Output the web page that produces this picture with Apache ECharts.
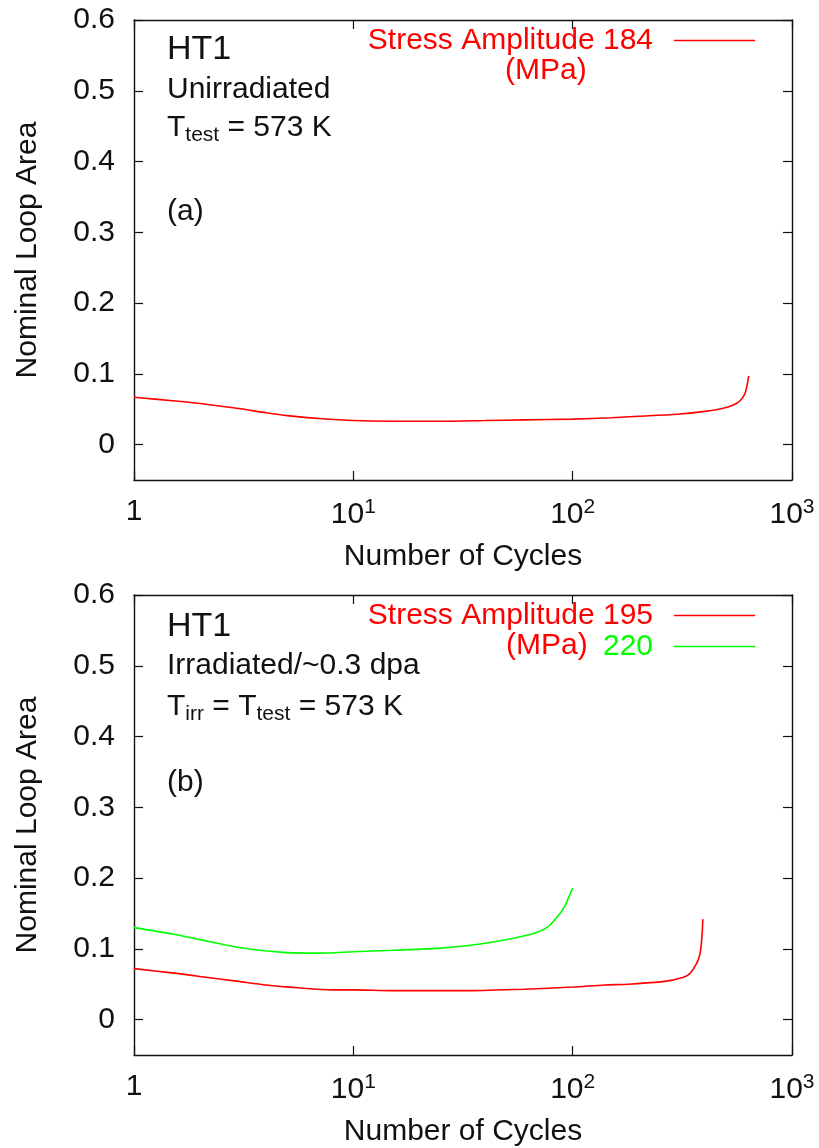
<!DOCTYPE html>
<html>
<head>
<meta charset="utf-8">
<script src="https://cdn.jsdelivr.net/npm/echarts@6/dist/echarts.min.js"></script>
<style>
  html, body { margin: 0; padding: 0; background: #fff; }
  #chart { width: 819px; height: 1148px; }
</style>
</head>
<body>
<div id="chart"></div>
<script>
// Panel (a): unirradiated, stress amplitude 184 MPa
const cyclesA184 = [1, 1.5, 2, 3, 4, 5, 7, 10, 15, 25, 40, 60, 100, 150, 200, 300, 400, 480, 540, 580, 610, 625, 635];
const areaA184   = [0.067, 0.062, 0.058, 0.051, 0.045, 0.041, 0.037, 0.034, 0.033, 0.033, 0.034, 0.035, 0.036, 0.038, 0.040, 0.043, 0.047, 0.051, 0.056, 0.062, 0.072, 0.085, 0.097];

// Panel (b): irradiated, stress amplitudes 195 and 220 MPa
const cyclesB195 = [1, 1.5, 2, 3, 4, 5.6, 8, 10, 15, 33, 60, 100, 140, 180, 262, 320, 342, 367, 380, 386, 390, 392];
const areaB195   = [0.072, 0.066, 0.061, 0.054, 0.049, 0.045, 0.042, 0.042, 0.041, 0.041, 0.043, 0.046, 0.049, 0.050, 0.054, 0.060, 0.065, 0.079, 0.092, 0.107, 0.125, 0.142];
const cyclesB220 = [1, 1.5, 2, 3, 4.8, 7, 10, 15, 25, 42, 65, 77, 87, 92, 96, 100];
const areaB220   = [0.130, 0.121, 0.113, 0.102, 0.095, 0.094, 0.096, 0.098, 0.101, 0.109, 0.121, 0.131, 0.149, 0.160, 0.173, 0.186];

const yTicks = [0, 0.1, 0.2, 0.3, 0.4, 0.5, 0.6];

const FONT = '"Liberation Sans", Arial, sans-serif';
const FS = 30;
const INK = '#111';
const RED = '#ff0000';
const GREEN = '#00ff00';

const pairs = (xs, ys) => xs.map((x, i) => [x, ys[i]]);

const grids = [
  { left: 134, top: 20, width: 658, height: 460 },
  { left: 134, top: 595, width: 658, height: 460 }
];

function xAxisFor(gridIndex, top) {
  return {
    type: 'log', logBase: 10, min: 1, max: 1000, gridIndex,
    position: top ? 'top' : 'bottom',
    name: top ? '' : 'Number of Cycles',
    nameLocation: 'middle', nameGap: 62,
    nameTextStyle: { fontFamily: FONT, fontSize: FS, color: INK },
    axisLine: { show: true, onZero: false, lineStyle: { color: INK, width: 1.4 } },
    axisTick: { show: true, inside: true, length: 9, lineStyle: { color: INK, width: 1.2 } },
    minorTick: { show: false },
    splitLine: { show: false },
    axisLabel: {
      show: !top, margin: 17, color: INK, fontFamily: FONT, fontSize: FS,
      formatter: v => {
        if (Math.abs(v - 1) < 1e-9) return '1';
        const e = Math.round(Math.log10(v));
        return '{b|10}{s|' + e + '}';
      },
      rich: {
        b: { fontFamily: FONT, fontSize: FS, color: INK },
        s: { fontFamily: FONT, fontSize: 21, color: INK, padding: [0, 0, 15, 0] }
      }
    }
  };
}

function yAxisFor(gridIndex, right) {
  return {
    type: 'value', min: -0.05, max: 0.6, gridIndex,
    position: right ? 'right' : 'left',
    name: right ? '' : 'Nominal Loop Area',
    nameLocation: 'middle', nameRotate: 90, nameGap: 91,
    nameTextStyle: { fontFamily: FONT, fontSize: FS, color: INK },
    axisLine: { show: true, onZero: false, lineStyle: { color: INK, width: 1.4 } },
    axisTick: { show: true, inside: true, length: 9, customValues: yTicks, lineStyle: { color: INK, width: 1.2 } },
    splitLine: { show: false },
    axisLabel: {
      show: !right, margin: 19, color: INK, fontFamily: FONT, fontSize: FS,
      customValues: yTicks,
      formatter: v => (Math.abs(v) < 1e-9 ? '0' : v.toFixed(1))
    }
  };
}

function lineSeries(name, color, xi, yi, data) {
  return {
    name, type: 'line', xAxisIndex: xi, yAxisIndex: yi,
    data, smooth: 0.25, showSymbol: false, symbol: 'none',
    lineStyle: { color, width: 1.6 }, itemStyle: { color },
    animation: false
  };
}

function note(x, y, text, size, rich, color) {
  return {
    type: 'text', left: x, top: y,
    style: {
      text, fontFamily: FONT, fontSize: size || FS, fill: color || INK,
      rich: rich || {}
    }
  };
}

const subRich = {
  n: { fontFamily: FONT, fontSize: FS, fill: INK, color: INK },
  sub: { fontFamily: FONT, fontSize: 21, fill: INK, color: INK, padding: [15, 0, 0, 0] }
};

const legendText = { fontFamily: FONT, fontSize: FS, lineHeight: 31, padding: [0, 16, 0, 0] };

const option = {
  backgroundColor: '#fff',
  animation: false,
  grid: grids,
  xAxis: [xAxisFor(0, false), xAxisFor(0, true), xAxisFor(1, false), xAxisFor(1, true)],
  yAxis: [yAxisFor(0, false), yAxisFor(0, true), yAxisFor(1, false), yAxisFor(1, true)],
  legend: [
    {
      data: [{ name: 'Stress Amplitude 184', textStyle: { color: RED } }],
      orient: 'vertical', align: 'right', right: 64, top: 25, padding: 0,
      icon: 'rect', itemWidth: 81, itemHeight: 1.6, itemGap: 0,
      selectedMode: false, textStyle: legendText
    },
    {
      data: [
        { name: 'Stress Amplitude 195', textStyle: { color: RED } },
        { name: '220', textStyle: { color: GREEN } }
      ],
      orient: 'vertical', align: 'right', right: 64, top: 600, padding: 0,
      icon: 'rect', itemWidth: 81, itemHeight: 1.6, itemGap: 0,
      selectedMode: false, textStyle: legendText
    }
  ],
  graphic: [
    // panel (a) annotations
    note(167, 33, 'HT1', 34),
    note(167, 75, 'Unirradiated'),
    note(167, 113, '{n|T}{sub|test}{n| = 573 K}', FS, subRich),
    note(167, 197, '(a)'),
    note(505, 56, '(MPa)', FS, null, RED),
    // panel (b) annotations
    note(167, 610, 'HT1', 34),
    note(167, 651, 'Irradiated/~0.3 dpa'),
    note(167, 692, '{n|T}{sub|irr}{n| = T}{sub|test}{n| = 573 K}', FS, subRich),
    note(167, 768, '(b)'),
    note(506, 631, '(MPa)', FS, null, RED)
  ],
  series: [
    lineSeries('Stress Amplitude 184', RED, 0, 0, pairs(cyclesA184, areaA184)),
    lineSeries('Stress Amplitude 195', RED, 2, 2, pairs(cyclesB195, areaB195)),
    lineSeries('220', GREEN, 2, 2, pairs(cyclesB220, areaB220))
  ]
};

const chart = echarts.init(document.getElementById('chart'), null, { renderer: 'canvas' });
chart.setOption(option);
</script>
</body>
</html>
